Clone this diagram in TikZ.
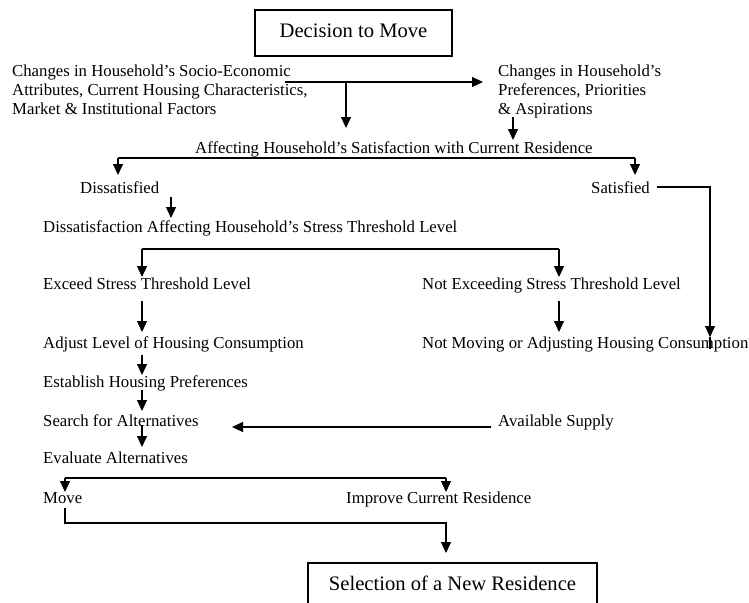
\documentclass[tikz,border=0pt]{standalone}
\usepackage{fontspec}
\setmainfont{Liberation Serif}
\usetikzlibrary{arrows.meta}
\begin{document}
\begin{tikzpicture}[x=1pt,y=-1pt,
  lbl/.style={anchor=base west,inner sep=0pt,font=\fontsize{16.75}{19}\selectfont},
  multi/.style={lbl,align=left},
  framed/.style={draw,line width=1.1pt,inner sep=0pt,font=\fontsize{20.6}{24}\selectfont},
  conn/.style={line width=1.1pt},
  arr/.style={conn,-{Triangle[length=11pt,width=10pt]}}]
\clip (0,0) rectangle (749,602);

% framed start and end
\node[framed,minimum width=197pt,minimum height=46pt,text depth=4pt] (decide) at (353.5,33) {Decision to Move};
\node[framed,minimum width=289pt,minimum height=42pt,text depth=2pt] (select) at (452.5,584) {Selection of a New Residence};

% labels (multi-line ones are placed by the baseline of their last line)
\node[multi] (socio) at (12,114) {Changes in Household’s Socio-Economic\\Attributes, Current Housing Characteristics,\\Market \& Institutional Factors};
\node[multi] (pref) at (498,114) {Changes in Household’s\\Preferences, Priorities\\\& Aspirations};
\node[lbl] (affect) at (195,153) {Affecting Household’s Satisfaction with Current Residence};
\node[lbl] (dissat) at (80,193) {Dissatisfied};
\node[lbl] (sat) at (591,193) {Satisfied};
\node[lbl] (stress) at (43,232) {Dissatisfaction Affecting Household’s Stress Threshold Level};
\node[lbl] (exceed) at (43,289) {Exceed Stress Threshold Level};
\node[lbl] (notexceed) at (422,289) {Not Exceeding Stress Threshold Level};
\node[lbl] (adjust) at (43,348) {Adjust Level of Housing Consumption};
\node[lbl] (notmove) at (422,348) {Not Moving or Adjusting Housing Consumption};
\node[lbl] (establish) at (43,387) {Establish Housing Preferences};
\node[lbl] (search) at (43,426) {Search for Alternatives};
\node[lbl] (supply) at (498,426) {Available Supply};
\node[lbl] (evaluate) at (43,463) {Evaluate Alternatives};
\node[lbl] (move) at (43,503) {Move};
\node[lbl] (improve) at (346,503) {Improve Current Residence};

% junction points
\coordinate (s0) at (285,82);
\coordinate (s1) at (346,82);
\coordinate (p0) at (483,82);
\coordinate (a0) at (346,128);
\coordinate (p1) at (513,117);
\coordinate (a1) at (513,140);
\coordinate (fl) at (118,158);
\coordinate (fr) at (635,158);
\coordinate (dl) at (118,175);
\coordinate (dr) at (635,175);
\coordinate (t0) at (657,187);
\coordinate (t1) at (710,337);
\coordinate (t2) at (710,349);
\coordinate (d0) at (171,197);
\coordinate (d1) at (171,218);
\coordinate (el) at (142,249);
\coordinate (er) at (559,249);
\coordinate (e1) at (142,277);
\coordinate (e2) at (559,277);
\coordinate (x0) at (142,301);
\coordinate (x1) at (142,332);
\coordinate (n0) at (559,301);
\coordinate (n1) at (559,332);
\coordinate (j0) at (142,355);
\coordinate (j1) at (142,375);
\coordinate (h0) at (142,390);
\coordinate (h1) at (142,411);
\coordinate (r0) at (142,425);
\coordinate (r1) at (142,447);
\coordinate (v0) at (491,427);
\coordinate (v1) at (232,427);
\coordinate (ml) at (65,478);
\coordinate (mr) at (446,478);
\coordinate (m1) at (65,492);
\coordinate (m2) at (446,492);
\coordinate (w0) at (65,508);
\coordinate (w1) at (446,523);
\coordinate (w2) at (446,553);

% connectors
\draw[arr] (s0) -- (p0);
\draw[arr] (s1) -- (a0);
\draw[arr] (p1) -- (a1);
\draw[arr] (fl) -- (dl);
\draw[conn] (fl) -- (fr);
\draw[arr] (fr) -- (dr);
\draw[arr] (t0) -| (t1);
\draw[conn] (t1) -- (t2);
\draw[arr] (d0) -- (d1);
\draw[arr] (el) -- (e1);
\draw[conn] (el) -- (er);
\draw[arr] (er) -- (e2);
\draw[arr] (x0) -- (x1);
\draw[arr] (n0) -- (n1);
\draw[arr] (j0) -- (j1);
\draw[arr] (h0) -- (h1);
\draw[arr] (r0) -- (r1);
\draw[arr] (v0) -- (v1);
\draw[arr] (ml) -- (m1);
\draw[conn] (ml) -- (mr);
\draw[arr] (mr) -- (m2);
\draw[arr] (w0) |- (w1) -- (w2);
\end{tikzpicture}
\end{document}
